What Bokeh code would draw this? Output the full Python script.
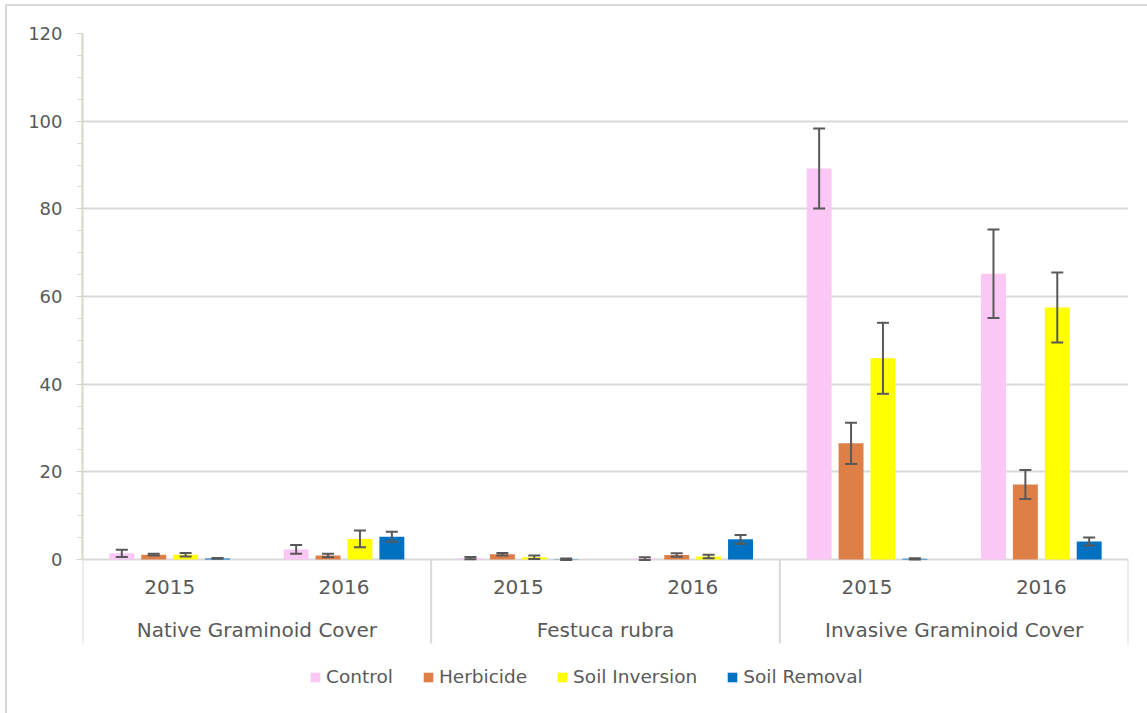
from bokeh.plotting import figure
from bokeh.models import (FactorRange, ColumnDataSource, Whisker, TeeHead, FixedTicker,
                          Legend, LegendItem)
from bokeh.transform import dodge
from bokeh.core.properties import value
from bokeh.embed import file_html
from bokeh.resources import INLINE

groups = ["Native Graminoid Cover", "Festuca rubra", "Invasive Graminoid Cover"]
years = ["2015", "2016"]
treatments = ["Control", "Herbicide", "Soil Inversion", "Soil Removal"]

control = [1.4, 2.3, 0.3, 0.2, 89.2, 65.2]
control_err = [0.85, 1.0, 0.25, 0.3, 9.1, 10.1]
herbicide = [1.1, 0.9, 1.2, 1.0, 26.5, 17.1]
herbicide_err = [0.2, 0.4, 0.3, 0.4, 4.7, 3.3]
inversion = [1.1, 4.7, 0.5, 0.7, 45.9, 57.5]
inversion_err = [0.4, 1.9, 0.4, 0.4, 8.1, 8.0]
removal = [0.25, 5.2, 0.05, 4.6, 0.15, 4.1]
removal_err = [0.1, 1.15, 0.15, 1.0, 0.15, 0.9]

y_ticks = [0, 20, 40, 60, 80, 100, 120]

colors = ["#FBC7F5", "#DE7F48", "#FFFF00", "#0070C0"]
FONT = "DejaVu Sans"
TXT = "#595959"
GRID = "#D9D9D9"

x = [(g, y) for g in groups for y in years]
series = [(control, control_err), (herbicide, herbicide_err),
          (inversion, inversion_err), (removal, removal_err)]

# vertical layout (data units below zero hold the category table and legend)
PX = 526 / 120.0
Y_BOTTOM = -(711 - 559) / PX
Y_TABLE = -(643 - 559) / PX
Y_YEAR = -(586 - 559) / PX
Y_GROUP = -(629 - 559) / PX

p = figure(x_range=FactorRange(factors=x, factor_padding=0, group_padding=0, range_padding=0),
           y_range=(Y_BOTTOM, 120), width=1147, height=713,
           output_backend="svg", toolbar_location=None,
           min_border_left=82, min_border_right=19, min_border_top=33, min_border_bottom=2)
p.outline_line_color = None
p.background_fill_color = "white"
p.border_fill_color = None
p.styles = {"background": "linear-gradient(#D9D9D9,#D9D9D9) 5px 4px / 2px 100% no-repeat, "
                          "linear-gradient(#D9D9D9,#D9D9D9) 5px 4px / 100% 2px no-repeat, #FFFFFF"}

step = 0.183
offsets = [-1.5 * step, -0.5 * step, 0.5 * step, 1.5 * step]
bw = 0.143

items = []
for (vals, errs), name, col, off in zip(series, treatments, colors, offsets):
    src = ColumnDataSource(dict(x=x, top=vals,
                                upper=[v + e for v, e in zip(vals, errs)],
                                lower=[v - e for v, e in zip(vals, errs)]))
    r = p.vbar(x=dodge("x", off, range=p.x_range), top="top", bottom=0, width=bw,
               source=src, fill_color=col, line_color=None)
    w = Whisker(base=dodge("x", off, range=p.x_range), upper="upper", lower="lower",
                source=src, line_color="#595959", line_width=2,
                upper_head=TeeHead(size=12, line_color="#595959", line_width=2),
                lower_head=TeeHead(size=12, line_color="#595959", line_width=2),
                level="overlay")
    p.add_layout(w)
    items.append(LegendItem(label=name, renderers=[r]))

# category table: separators and labels below the zero line
sep_left = ColumnDataSource(dict(x=[(groups[0], years[0])]))
sep_right = ColumnDataSource(dict(x=[(g, years[-1]) for g in groups]))
for s, off in ((sep_left, -0.5), (sep_right, 0.5)):
    p.segment(x0=dodge("x", off, range=p.x_range), x1=dodge("x", off, range=p.x_range),
              y0=0, y1=Y_TABLE, source=s, line_color=GRID, line_width=2)

year_src = ColumnDataSource(dict(x=x, text=[y for g in groups for y in years]))
p.text(x="x", y=Y_YEAR, text="text", source=year_src, text_font=value(FONT),
       text_font_size="20px", text_color=TXT, text_align="center", text_baseline="middle")
group_src = ColumnDataSource(dict(x=groups, text=groups))
p.text(x="x", y=Y_GROUP, text="text", source=group_src, text_font=value(FONT),
       text_font_size="20px", text_color=TXT, text_align="center", text_baseline="middle")

p.xaxis.visible = False

# y axis
p.yaxis.bounds = (0, 120)
p.yaxis.ticker = FixedTicker(ticks=y_ticks,
                             minor_ticks=[v for v in range(0, 121, 5) if v % 20])
p.yaxis.axis_line_color = "#D6D6C6"
p.yaxis.axis_line_width = 2
p.yaxis.major_tick_line_color = "#D6D6C6"
p.yaxis.minor_tick_line_color = "#D6D6C6"
p.yaxis.major_tick_out = 6
p.yaxis.major_tick_in = 0
p.yaxis.minor_tick_out = 5
p.yaxis.minor_tick_in = 0
p.yaxis.major_label_standoff = 14
p.yaxis.major_label_text_font = FONT
p.yaxis.major_label_text_font_size = "18px"
p.yaxis.major_label_text_color = TXT

p.ygrid.ticker = FixedTicker(ticks=y_ticks)
p.ygrid.grid_line_color = GRID
p.ygrid.grid_line_width = 2
p.xgrid.grid_line_color = None

legend = Legend(items=items, orientation="horizontal", location=(227, 24),
                glyph_width=12, glyph_height=12, label_standoff=5, spacing=29,
                label_height=20, padding=0, margin=0, border_line_color=None,
                background_fill_alpha=0,
                label_text_font=FONT, label_text_font_size="18.5px",
                label_text_color=TXT)
p.add_layout(legend, "center")

open("out.html", "w").write(file_html(p, INLINE))
